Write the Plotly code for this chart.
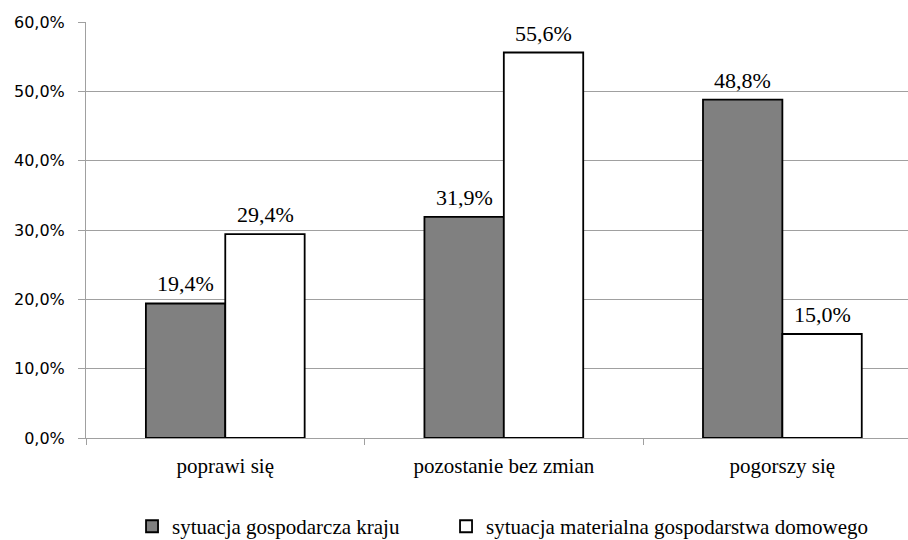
import plotly.graph_objects as go

categories = ["poprawi się", "pozostanie bez zmian", "pogorszy się"]
series_names = ["sytuacja gospodarcza kraju", "sytuacja materialna gospodarstwa domowego"]
kraj = [19.4, 31.9, 48.8]
dom = [29.4, 55.6, 15.0]
y_ticks = [0, 10, 20, 30, 40, 50, 60]
y_tick_text = [f"{v:.1f}%".replace(".", ",") for v in y_ticks]

SERIF = "Liberation Serif"
SANS = "DejaVu Sans"

fig = go.Figure()
fig.add_bar(
    x=categories, y=kraj, name=series_names[0], legend="legend",
    marker=dict(color="#808080", line=dict(color="#000000", width=1.8)),
)
fig.add_bar(
    x=categories, y=dom, name=series_names[1], legend="legend2",
    marker=dict(color="#ffffff", line=dict(color="#000000", width=1.8)),
)

# value labels above each bar, shifted half a bar width to the left/right
bar_px = 79.5
for vals, dx in ((kraj, -bar_px / 2), (dom, bar_px / 2)):
    for c, v in zip(categories, vals):
        fig.add_annotation(
            x=c, y=v, text=f"{v:.1f}%".replace(".", ","), showarrow=False,
            xshift=dx, yshift=5, yanchor="bottom",
            font=dict(family=SERIF, size=22, color="#000000"),
        )

legend_style = dict(
    orientation="h", y=-0.213, yanchor="middle", xanchor="left",
    font=dict(family=SERIF, size=21, color="#000000"),
    bgcolor="rgba(0,0,0,0)",
)

fig.update_layout(
    width=908, height=540,
    margin=dict(l=86, r=0, t=22, b=102, autoexpand=False),
    plot_bgcolor="#ffffff", paper_bgcolor="#ffffff",
    barmode="group", bargap=0.43, bargroupgap=0,
    showlegend=True,
    legend=dict(x=0.056, **legend_style),
    legend2=dict(x=0.438, **legend_style),
    xaxis=dict(
        type="category", range=[-0.5, 2.451],
        tickson="boundaries", ticks="outside", ticklen=6, tickcolor="#a0a0a0",
        ticklabelstandoff=9,
        showline=True, linecolor="#a0a0a0", linewidth=1,
        showgrid=False,
        tickfont=dict(family=SERIF, size=21, color="#000000"),
    ),
    yaxis=dict(
        range=[0, 60], tickmode="array", tickvals=y_ticks, ticktext=y_tick_text,
        ticks="outside", ticklen=7, tickcolor="#a0a0a0",
        ticklabelstandoff=10,
        showline=True, linecolor="#a0a0a0", linewidth=1,
        showgrid=True, gridcolor="#a0a0a0", gridwidth=1,
        zeroline=False,
        tickfont=dict(family=SANS, size=16, color="#000000"),
    ),
)

fig.write_html("out.html")
